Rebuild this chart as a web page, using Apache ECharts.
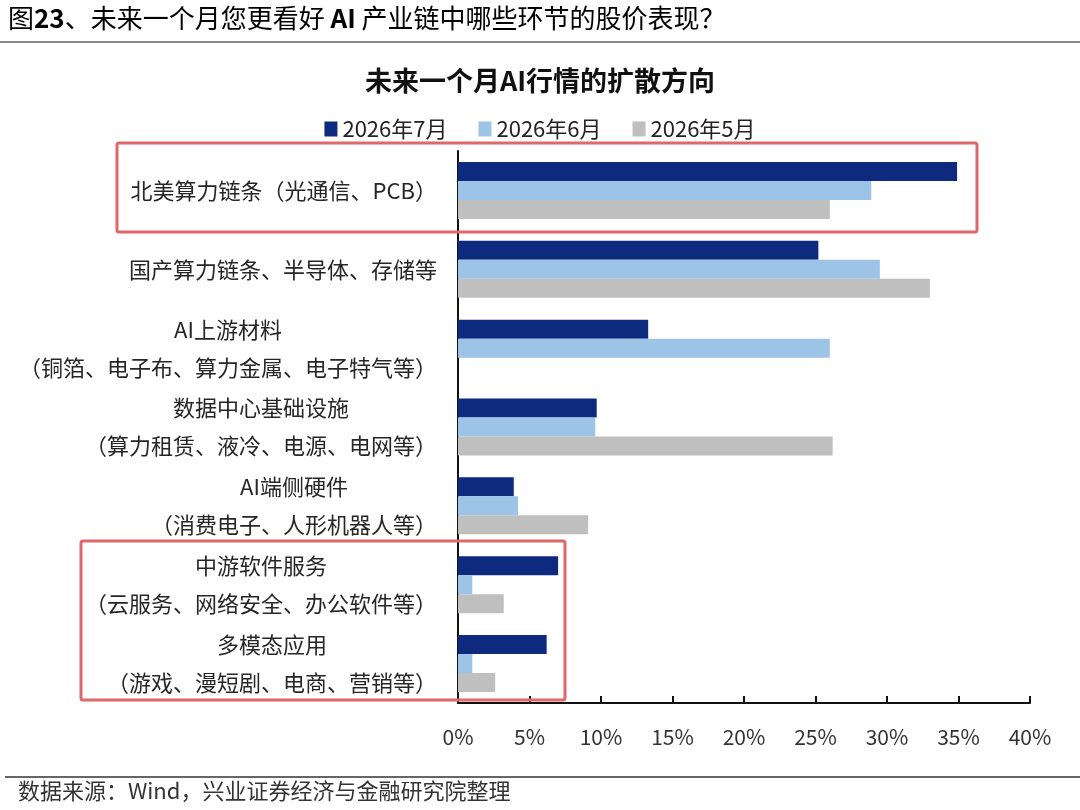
<!DOCTYPE html>
<html>
<head>
<meta charset="utf-8">
<script src="https://cdn.jsdelivr.net/npm/echarts@6/dist/echarts.min.js"></script>
<style>
  html, body { margin: 0; padding: 0; background: #fff; }
  #chart { width: 1080px; height: 810px; }
</style>
</head>
<body>
<div id="chart"></div>
<script>
// === Данные
const CATEGORIES = [
    '北美算力链条（光通信、PCB）',
    '国产算力链条、半导体、存储等',
    'AI上游材料\n（铜箔、电子布、算力金属、电子特气等）',
    '数据中心基础设施\n（算力租赁、液冷、电源、电网等）',
    'AI端侧硬件\n（消费电子、人形机器人等）',
    '中游软件服务\n（云服务、网络安全、办公软件等）',
    '多模态应用\n（游戏、漫短剧、电商、营销等）'
];
const SERIES_NAMES = ['2026年7月', '2026年6月', '2026年5月'];
const JUL_2026 = [34.9, 25.2, 13.3, 9.7, 3.9, 7.0, 6.2];
const JUN_2026 = [28.9, 29.5, 26.0, 9.6, 4.2, 1.0, 1.0];
const MAY_2026 = [26.0, 33.0, 0, 26.2, 9.1, 3.2, 2.6];
const X_TICKS = [0, 5, 10, 15, 20, 25, 30, 35, 40];

const COLORS = ['#0D2A7E', '#9DC3E6', '#BFBFBF'];
const FONT = '"Noto Sans CJK SC", "Noto Sans", sans-serif';

const chart = echarts.init(document.getElementById('chart'));

function makeSeries(name, data, color) {
    return {
        name: name,
        type: 'bar',
        data: data,
        barWidth: 19,
        barGap: '0%',
        itemStyle: { color: color },
        silent: true
    };
}

const option = {
    backgroundColor: '#fff',
    animation: false,
    textStyle: { fontFamily: FONT },
    title: {
        text: '未来一个月AI行情的扩散方向',
        left: 'center',
        top: 62,
        textStyle: { fontSize: 27, fontWeight: 'bold', color: '#111', fontFamily: FONT }
    },
    legend: {
        data: SERIES_NAMES,
        left: 'center',
        top: 113,
        icon: 'rect',
        itemWidth: 13,
        itemHeight: 15,
        itemGap: 31,
        textStyle: { fontSize: 22, color: '#222', fontFamily: FONT }
    },
    grid: { left: 458, right: 50, top: 151, bottom: 107 },
    xAxis: {
        type: 'value',
        min: X_TICKS[0],
        max: X_TICKS[X_TICKS.length - 1],
        interval: 5,
        axisLine: { show: true, lineStyle: { color: '#111', width: 2 } },
        axisTick: { show: true, inside: true, length: 7, lineStyle: { color: '#111', width: 2 } },
        splitLine: { show: false },
        axisLabel: {
            formatter: v => v + '%',
            fontSize: 21,
            color: '#333',
            margin: 24,
            fontFamily: FONT
        }
    },
    yAxis: {
        type: 'category',
        data: CATEGORIES,
        inverse: true,
        axisLine: { show: true, lineStyle: { color: '#111', width: 2 } },
        axisTick: { show: false },
        axisLabel: {
            align: 'right',
            margin: 21,
            formatter: v => v.split('\n').map(s => '{c|' + s + '}').join('\n'),
            rich: {
                c: { align: 'center', fontSize: 22, lineHeight: 38, color: '#262626', fontFamily: FONT }
            }
        }
    },
    series: [
        makeSeries(SERIES_NAMES[0], JUL_2026, COLORS[0]),
        makeSeries(SERIES_NAMES[1], JUN_2026, COLORS[1]),
        makeSeries(SERIES_NAMES[2], MAY_2026, COLORS[2])
    ],
    graphic: [
        {
            type: 'text', left: 8, top: 5,
            style: {
                text: '{n|图}{b|23}{n|、未来一个月您更看好 }{b|AI}{n| 产业链中哪些环节的股价表现？}',
                rich: {
                    n: { fontSize: 26, color: '#333', fontFamily: FONT },
                    b: { fontSize: 26, color: '#333', fontWeight: 'bold', fontFamily: FONT }
                }
            }
        },
        { type: 'rect', shape: { x: 0, y: 41, width: 1080, height: 2 }, style: { fill: '#888' } },
        { type: 'rect', shape: { x: 5, y: 776, width: 1075, height: 2 }, style: { fill: '#666' } },
        {
            type: 'text', left: 18, top: 780,
            style: { text: '数据来源：Wind，兴业证券经济与金融研究院整理', fontSize: 22, fill: '#333', fontFamily: FONT }
        },
        // красные рамки
        {
            type: 'rect', z: 100,
            shape: { x: 117, y: 143, width: 860, height: 89, r: 2 },
            style: { fill: 'none', stroke: '#E0676A', lineWidth: 3 }
        },
        {
            type: 'rect', z: 100,
            shape: { x: 81, y: 541, width: 484, height: 159, r: 2 },
            style: { fill: 'none', stroke: '#E0676A', lineWidth: 3 }
        }
    ]
};

chart.setOption(option);
</script>
</body>
</html>
